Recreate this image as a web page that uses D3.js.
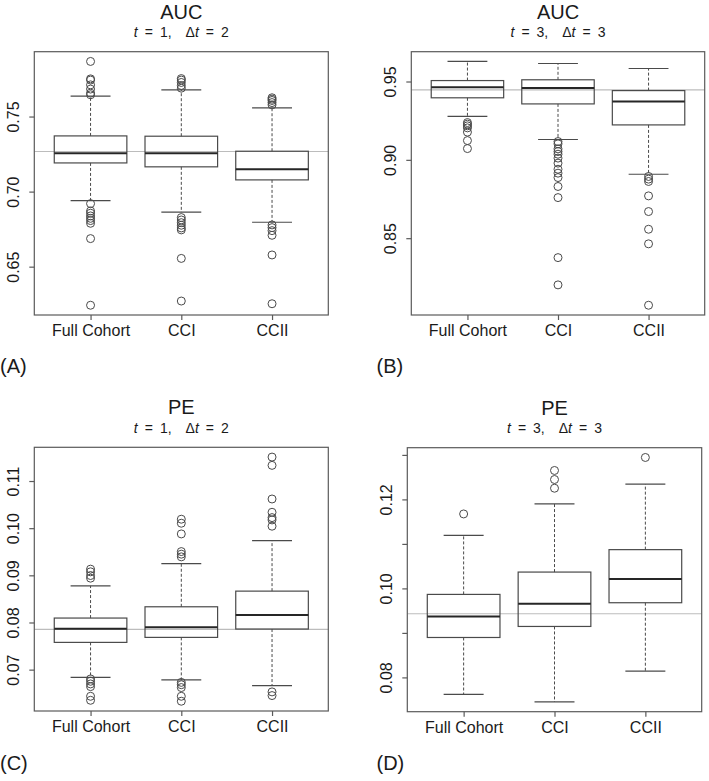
<!DOCTYPE html>
<html>
<head>
<meta charset="utf-8">
<script src="https://cdn.jsdelivr.net/npm/d3@7"></script>
<style>
  html, body { margin: 0; padding: 0; background: #fff; }
  svg { display: block; font-family: "Liberation Sans", Arial, Helvetica, sans-serif; }
</style>
</head>
<body>
<svg id="chart" width="709" height="781"></svg>
<script>
// ---------- DATA ----------
const categories = ["Full Cohort", "CCI", "CCII"];

// box stats per category: [lower whisker, Q1, median, Q3, upper whisker]
const aucT1Box = [
  [0.6940, 0.7191, 0.7256, 0.7371, 0.7636],
  [0.6863, 0.7165, 0.7256, 0.7369, 0.7678],
  [0.6796, 0.7078, 0.7149, 0.7269, 0.7558]
];
const aucT1Out = [
  [0.7867, 0.7751, 0.7743, 0.7711, 0.7683, 0.7656, 0.7645, 0.6920, 0.6871, 0.6856, 0.6838, 0.6822, 0.6807, 0.6789, 0.6687, 0.6243],
  [0.7753, 0.7743, 0.7727, 0.7707, 0.7689, 0.6827, 0.6811, 0.6793, 0.6776, 0.6758, 0.6745, 0.6555, 0.6271],
  [0.7625, 0.7616, 0.7607, 0.7593, 0.7578, 0.6778, 0.6760, 0.6740, 0.6709, 0.6578, 0.6253]
];
const aucT1Ref = 0.7267;
const aucT1Ticks = [0.65, 0.70, 0.75];
const aucT1TickLabels = ["0.65", "0.70", "0.75"];

const aucT3Box = [
  [0.9277, 0.9396, 0.9464, 0.9506, 0.9628],
  [0.9130, 0.9357, 0.9458, 0.9511, 0.9615],
  [0.8908, 0.9223, 0.9372, 0.9442, 0.9583]
];
const aucT3Out = [
  [0.9238, 0.9228, 0.9217, 0.9204, 0.9177, 0.9123, 0.9072],
  [0.9117, 0.9102, 0.9070, 0.9053, 0.9036, 0.9011, 0.8979, 0.8940, 0.8915, 0.8887, 0.8830, 0.8759, 0.8376, 0.8202],
  [0.8894, 0.8877, 0.8862, 0.8770, 0.8670, 0.8557, 0.8464, 0.8072]
];
const aucT3Ref = 0.9447;
const aucT3Ticks = [0.85, 0.90, 0.95];
const aucT3TickLabels = ["0.85", "0.90", "0.95"];

const peT1Box = [
  [0.06837, 0.07578, 0.07868, 0.08094, 0.08778],
  [0.06781, 0.07684, 0.07900, 0.08333, 0.09250],
  [0.06661, 0.07861, 0.08157, 0.08665, 0.09737]
];
const peT1Out = [
  [0.09131, 0.09074, 0.08996, 0.08940, 0.06803, 0.06753, 0.06697, 0.06640, 0.06435, 0.06350],
  [0.10190, 0.10105, 0.09878, 0.09504, 0.09449, 0.09392, 0.06730, 0.06680, 0.06620, 0.06435, 0.06330],
  [0.11508, 0.11332, 0.10619, 0.10337, 0.10224, 0.10175, 0.10042, 0.06528, 0.06450]
];
const peT1Ref = 0.07853;
const peT1Ticks = [0.07, 0.08, 0.09, 0.10, 0.11];
const peT1TickLabels = ["0.07", "0.08", "0.09", "0.10", "0.11"];

const peT3Box = [
  [0.07620, 0.08897, 0.09370, 0.09865, 0.11193],
  [0.07449, 0.09145, 0.09655, 0.10367, 0.11898],
  [0.08139, 0.09678, 0.10210, 0.10871, 0.12341]
];
const peT3Out = [
  [0.11673],
  [0.12650, 0.12447, 0.12251],
  [0.12942]
];
const peT3Ref = 0.0943;
const peT3Ticks = [0.08, 0.09, 0.10, 0.11, 0.12, 0.13];
const peT3TickLabels = ["0.08", "", "0.10", "", "0.12", ""];

// ---------- LAYOUT ----------
const panels = [
  { title: "AUC", t: "1", dt: "2", box: aucT1Box, out: aucT1Out, ref: aucT1Ref, ticks: aucT1Ticks, tickLabels: aucT1TickLabels,
    tag: "(A)", tagX: 0, tagY: 373, x0: 34.3, x1: 328.3, y0: 51.7, y1: 315 },
  { title: "AUC", t: "3", dt: "3", box: aucT3Box, out: aucT3Out, ref: aucT3Ref, ticks: aucT3Ticks, tickLabels: aucT3TickLabels,
    tag: "(B)", tagX: 376.5, tagY: 373, x0: 411.3, x1: 704.7, y0: 51.7, y1: 315 },
  { title: "PE", t: "1", dt: "2", box: peT1Box, out: peT1Out, ref: peT1Ref, ticks: peT1Ticks, tickLabels: peT1TickLabels,
    tag: "(C)", tagX: 0, tagY: 770, x0: 34.3, x1: 328.3, y0: 447.3, y1: 711 },
  { title: "PE", t: "3", dt: "3", box: peT3Box, out: peT3Out, ref: peT3Ref, ticks: peT3Ticks, tickLabels: peT3TickLabels,
    tag: "(D)", tagX: 376.5, tagY: 770, x0: 407.3, x1: 701.7, y0: 447.7, y1: 711.7 }
];

const svg = d3.select("#chart");
const LINE = "#4a4a4a";
const FRAME = "#5a5a5a";
const TEXT = "#1a1a1a";

panels.forEach(p => {
  const g = svg.append("g");

  // y domain: data range extended by 4% (R default)
  const allVals = p.box.flat().concat(p.out.flat());
  const [mn, mx] = d3.extent(allVals);
  const pad = (mx - mn) * 0.04;
  const y = d3.scaleLinear().domain([mn - pad, mx + pad]).range([p.y1, p.y0]);
  const x = d3.scalePoint().domain(categories).range([p.x0, p.x1]).padding(0.62);
  const step = x.step();
  const boxW = step * 0.8;
  const stapleW = step * 0.44;

  // reference line
  g.append("line")
    .attr("x1", p.x0).attr("x2", p.x1)
    .attr("y1", y(p.ref)).attr("y2", y(p.ref))
    .attr("stroke", "#bcbcbc").attr("stroke-width", 1.2);

  categories.forEach((c, i) => {
    const [lw, q1, med, q3, uw] = p.box[i];
    const cx = x(c);
    const bg = g.append("g");
    // whiskers (dashed)
    bg.append("line").attr("x1", cx).attr("x2", cx).attr("y1", y(q3)).attr("y2", y(uw))
      .attr("stroke", LINE).attr("stroke-width", 1).attr("stroke-dasharray", "3,2");
    bg.append("line").attr("x1", cx).attr("x2", cx).attr("y1", y(q1)).attr("y2", y(lw))
      .attr("stroke", LINE).attr("stroke-width", 1).attr("stroke-dasharray", "3,2");
    // staples
    [lw, uw].forEach(v => {
      bg.append("line").attr("x1", cx - stapleW / 2).attr("x2", cx + stapleW / 2)
        .attr("y1", y(v)).attr("y2", y(v)).attr("stroke", LINE).attr("stroke-width", 1.2);
    });
    // box
    bg.append("rect").attr("x", cx - boxW / 2).attr("width", boxW)
      .attr("y", y(q3)).attr("height", y(q1) - y(q3))
      .attr("fill", "none").attr("stroke", LINE).attr("stroke-width", 1.2);
    // median
    bg.append("line").attr("x1", cx - boxW / 2).attr("x2", cx + boxW / 2)
      .attr("y1", y(med)).attr("y2", y(med)).attr("stroke", "#262626").attr("stroke-width", 2);
    // outliers
    bg.selectAll("circle").data(p.out[i]).join("circle")
      .attr("cx", cx).attr("cy", d => y(d)).attr("r", 4)
      .attr("fill", "none").attr("stroke", LINE).attr("stroke-width", 1);
  });

  // frame
  g.append("rect").attr("x", p.x0).attr("y", p.y0)
    .attr("width", p.x1 - p.x0).attr("height", p.y1 - p.y0)
    .attr("fill", "none").attr("stroke", FRAME).attr("stroke-width", 1.2);

  // y axis
  const yAxis = d3.axisLeft(y).tickValues(p.ticks)
    .tickFormat((d, i) => p.tickLabels[i]).tickSizeOuter(0).tickSize(5);
  const ya = g.append("g").attr("transform", `translate(${p.x0},0)`).call(yAxis);
  ya.select(".domain").remove();
  ya.selectAll(".tick line").attr("stroke", FRAME).attr("stroke-width", 1.2);
  ya.selectAll(".tick text")
    .attr("x", null).attr("y", null).attr("dy", "0.35em")
    .attr("text-anchor", "middle")
    .attr("transform", "translate(-21,0) rotate(-90)")
    .attr("font-size", 16).attr("fill", TEXT)
    .style("font-family", "Liberation Sans, Arial, sans-serif");

  // x axis
  const xAxis = d3.axisBottom(x).tickSize(5).tickSizeOuter(0).tickPadding(5);
  const xa = g.append("g").attr("transform", `translate(0,${p.y1})`).call(xAxis);
  xa.select(".domain").remove();
  xa.selectAll(".tick line").attr("stroke", FRAME).attr("stroke-width", 1.2);
  xa.selectAll(".tick text").attr("font-size", 16).attr("fill", TEXT)
    .style("font-family", "Liberation Sans, Arial, sans-serif");

  // titles
  const cxT = (p.x0 + p.x1) / 2;
  g.append("text").attr("x", cxT).attr("y", p.y0 - 33.2)
    .attr("text-anchor", "middle").attr("font-size", 20).attr("fill", TEXT)
    .text(p.title);
  const sub = g.append("text").attr("x", cxT).attr("y", p.y0 - 14.4)
    .attr("text-anchor", "middle").attr("font-size", 14).attr("fill", TEXT)
    .attr("xml:space", "preserve");
  sub.append("tspan").attr("font-style", "italic").text("t");
  sub.append("tspan").text("\u2002=\u2002" + p.t + ",\u2002\u2002\u0394");
  sub.append("tspan").attr("font-style", "italic").text("t");
  sub.append("tspan").text("\u2002=\u2002" + p.dt);

  // panel tag
  svg.append("text").attr("x", p.tagX).attr("y", p.tagY)
    .attr("font-size", 20).attr("fill", TEXT).text(p.tag);
});
</script>
</body>
</html>
